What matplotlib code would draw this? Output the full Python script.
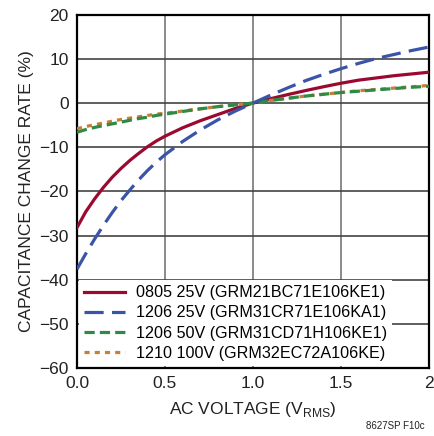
import numpy as np
import matplotlib.pyplot as plt

plt.rcParams['font.family'] = ['Liberation Sans', 'DejaVu Sans']

# AC voltage (V RMS)
x_volt = [0, 0.05, 0.1, 0.15, 0.2, 0.25, 0.3, 0.35, 0.4, 0.45, 0.5,
          0.6, 0.7, 0.8, 0.9, 1.0, 1.1, 1.2, 1.3, 1.4, 1.5, 1.6, 1.7, 1.8, 1.9, 2.0]

# capacitance change rate (%)
c0805_25v = [-28.2, -24.6, -21.7, -19.1, -16.8, -14.8, -13.0, -11.4, -9.9, -8.6, -7.5,
             -5.6, -4.0, -2.6, -1.2, 0.0, 1.0, 1.95, 2.85, 3.7, 4.5, 5.2, 5.7, 6.2, 6.6, 7.0]
c1206_25v = [-37.6, -34.1, -30.8, -27.7, -24.8, -22.1, -19.7, -17.4, -15.3, -13.4, -11.7,
             -8.7, -6.1, -3.8, -1.8, 0.0, 1.8, 3.5, 5.1, 6.5, 7.8, 9.0, 10.1, 11.0, 11.9, 12.7]
c1206_50v = [-6.6, -6.0, -5.5, -5.1, -4.7, -4.3, -3.9, -3.5, -3.2, -2.8, -2.5,
             -1.9, -1.3, -0.8, -0.4, 0.0, 0.6, 1.1, 1.6, 2.0, 2.4, 2.7, 3.0, 3.3, 3.6, 3.8]
c1210_100v = [-5.8, -5.3, -4.9, -4.5, -4.1, -3.7, -3.4, -3.1, -2.8, -2.5, -2.3,
              -1.8, -1.3, -0.8, -0.4, 0.0, 0.6, 1.1, 1.6, 2.0, 2.4, 2.8, 3.1, 3.4, 3.7, 4.0]

labels = ['0805 25V (GRM21BC71E106KE1)', '1206 25V (GRM31CR71E106KA1)',
          '1206 50V (GRM31CD71H106KE1)', '1210 100V (GRM32EC72A106KE)']

fig = plt.figure(figsize=(4.35, 4.36), dpi=100)
ax = fig.add_axes([0.177, 0.156, 0.809, 0.810])

lw = 2.3
ax.plot(x_volt, c0805_25v, color='#9a0a30', lw=lw, label=labels[0], zorder=3)
ax.plot(x_volt, c1206_25v, color='#3a54a8', lw=lw, dashes=(6, 2.6), label=labels[1], zorder=4)
ax.plot(x_volt, c1206_50v, color='#2e8a44', lw=lw, dashes=(3.2, 1.6), label=labels[2], zorder=3.5)
ax.plot(x_volt, c1210_100v, color='#c87d38', lw=lw, dashes=(1.6, 1.6), label=labels[3], zorder=3.2)

ax.set_xlim(0, 2)
ax.set_ylim(-60, 20)
ax.set_xticks([0, 0.5, 1.0, 1.5, 2])
ax.set_xticklabels(['0.0', '0.5', '1.0', '1.5', '2'])
ax.set_yticks(np.arange(-60, 21, 10))
ax.set_yticklabels([str(v).replace('-', '\u2212') for v in range(-60, 21, 10)])
ax.tick_params(length=0, labelsize=12.5, pad=6, colors='#222222')

ax.xaxis.grid(True, color='#8a8a8a', lw=1.4)
ax.yaxis.grid(True, color='#444444', lw=1.2)
ax.set_axisbelow(True)
for s in ax.spines.values():
    s.set_linewidth(1.6)
    s.set_color('black')

ax.set_xlabel('AC VOLTAGE (V$_{\\mathregular{RMS}}$)', fontsize=12.5, labelpad=6, color='#222222')
ax.set_ylabel('CAPACITANCE CHANGE RATE (%)', fontsize=12.5, labelpad=4, color='#222222')

leg = ax.legend(loc='lower left', bbox_to_anchor=(0.0, 0.0), fontsize=11.6, frameon=True,
                fancybox=False, edgecolor='none', facecolor='white', framealpha=1,
                handlelength=2.5, handletextpad=0.7, labelspacing=0.32,
                borderpad=0.3, borderaxespad=0.15)
leg.set_zorder(10)

fig.text(0.977, 0.012, '8627SP F10c', fontsize=7, ha='right', va='bottom', color='#222222')

fig.savefig('out.png', dpi=100)
